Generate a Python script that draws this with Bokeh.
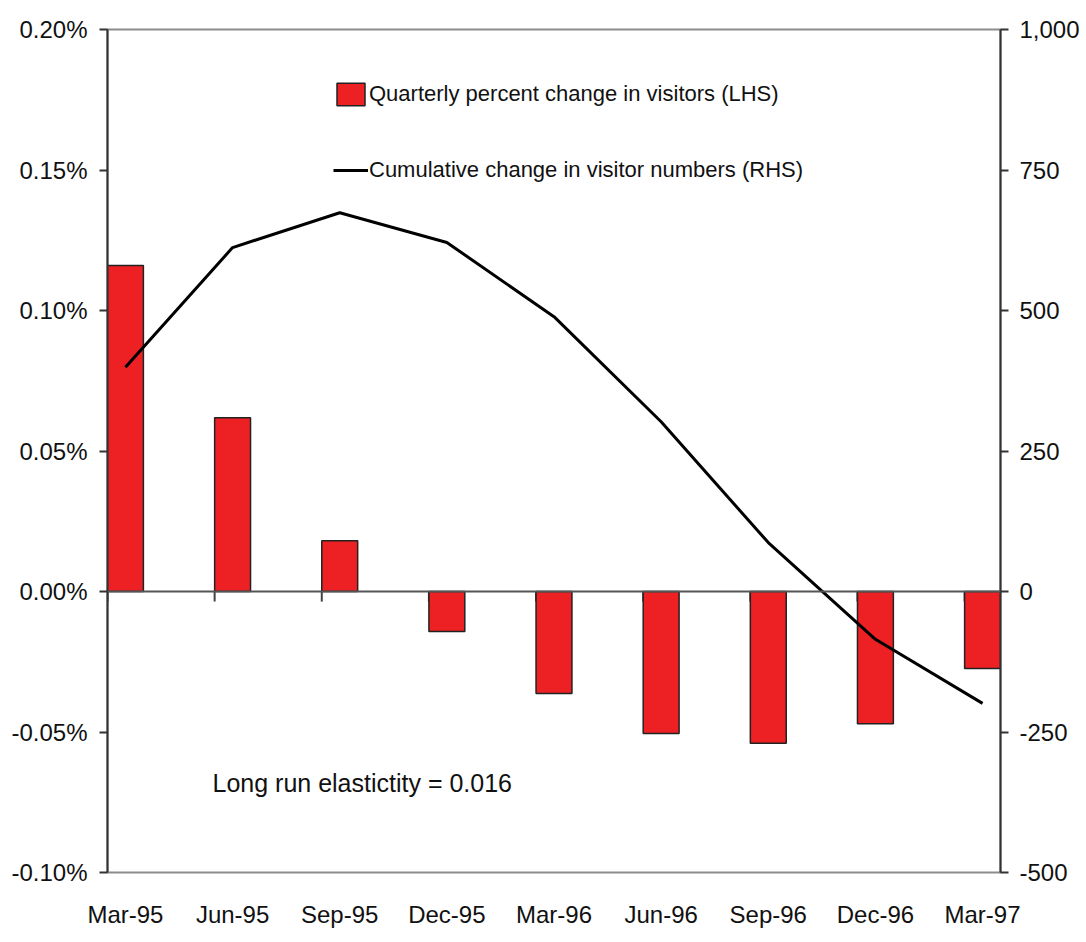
from bokeh.plotting import figure
from bokeh.models import (Range1d, LinearAxis, FixedTicker, PrintfTickFormatter,
                          NumeralTickFormatter, Span, Label, Legend, LegendItem)
from bokeh.embed import file_html
from bokeh.resources import INLINE

# ---- data ----
quarters = ["Mar-95", "Jun-95", "Sep-95", "Dec-95", "Mar-96", "Jun-96", "Sep-96", "Dec-96", "Mar-97"]
pct_change = [0.116, 0.0618, 0.0181, -0.0142, -0.0363, -0.0505, -0.054, -0.0471, -0.0274]  # % (LHS)
cum_change = [399, 612, 674, 621, 489, 302, 87, -85, -199]  # visitors (RHS)
lhs_ticks = [-0.10, -0.05, 0.0, 0.05, 0.10, 0.15, 0.20]
rhs_ticks = [-500, -250, 0, 250, 500, 750, 1000]

FONT = "Liberation Sans"
RED = "#ED2024"

idx = list(range(len(quarters)))
bar_w = 0.335
half = bar_w / 2

p = figure(width=1082, height=933, output_backend="svg", toolbar_location=None,
           x_range=Range1d(-half, len(quarters) - 1 + half),
           y_range=Range1d(-0.10, 0.20),
           min_border_left=107, min_border_right=79, min_border_top=29, min_border_bottom=61)
p.extra_y_ranges = {"rhs": Range1d(-500, 1000)}

p.xgrid.visible = False
p.ygrid.visible = False
p.background_fill_color = "white"
p.border_fill_color = "white"
p.outline_line_color = "#8c8c8c"
p.outline_line_width = 2

# bottom axis: category labels only
xa = p.xaxis[0]
xa.ticker = FixedTicker(ticks=idx)
xa.major_label_overrides = {i: q for i, q in zip(idx, quarters)}
xa.axis_line_color = None
xa.major_tick_line_color = None
xa.minor_tick_line_color = None
xa.major_label_standoff = 22
xa.major_label_text_font = FONT
xa.major_label_text_font_size = "24px"
xa.major_label_text_color = "#111111"

# left axis
ya = p.yaxis[0]
ya.ticker = FixedTicker(ticks=lhs_ticks)
ya.formatter = PrintfTickFormatter(format="%.2f%%")
ya.axis_line_color = "#333333"
ya.axis_line_width = 2
ya.major_tick_line_color = "#333333"
ya.major_tick_line_width = 2
ya.major_tick_out = 8
ya.major_tick_in = 0
ya.minor_tick_line_color = None
ya.major_label_standoff = 12
ya.major_label_text_font = FONT
ya.major_label_text_font_size = "24px"
ya.major_label_text_color = "#111111"

# right axis
ra = LinearAxis(y_range_name="rhs")
ra.ticker = FixedTicker(ticks=rhs_ticks)
ra.formatter = NumeralTickFormatter(format="0,0")
ra.axis_line_color = "#333333"
ra.axis_line_width = 2
ra.major_tick_line_color = "#333333"
ra.major_tick_line_width = 2
ra.major_tick_out = 8
ra.major_tick_in = 0
ra.minor_tick_line_color = None
ra.major_label_standoff = 11
ra.major_label_text_font = FONT
ra.major_label_text_font_size = "24px"
ra.major_label_text_color = "#111111"
p.add_layout(ra, "right")

# category tick marks on zero line (at slot boundaries)
p.segment(x0=[i - half for i in idx], x1=[i - half for i in idx],
          y0=[0] * len(idx), y1=[-0.0036] * len(idx), line_color="#444444", line_width=2)

bars = p.vbar(x=idx, top=pct_change, bottom=0, width=bar_w,
              fill_color=RED, line_color="#222222", line_width=1.5)

p.add_layout(Span(location=0, dimension="width", line_color="#555555", line_width=2))

ln = p.line(x=idx, y=cum_change, y_range_name="rhs", line_color="black", line_width=3)

legend = Legend(items=[
    LegendItem(label="Quarterly percent change in visitors (LHS)", renderers=[bars]),
    LegendItem(label="Cumulative change in visitor numbers (RHS)", renderers=[ln]),
], location=(226, 688))
legend.border_line_color = None
legend.background_fill_alpha = 0
legend.padding = 0
legend.margin = 0
legend.spacing = 48
legend.glyph_width = 35
legend.glyph_height = 28
legend.label_standoff = 1
legend.label_text_font = FONT
legend.label_text_font_size = "22px"
legend.label_text_color = "#111111"
legend.label_height = 22
p.add_layout(legend, "center")

p.add_layout(Label(x=105, y=90, x_units="screen", y_units="screen",
                   text="Long run elastictity = 0.016", text_baseline="middle",
                   text_font=FONT, text_font_size="25px", text_color="#111111"))

open("out.html", "w").write(file_html(p, INLINE))
